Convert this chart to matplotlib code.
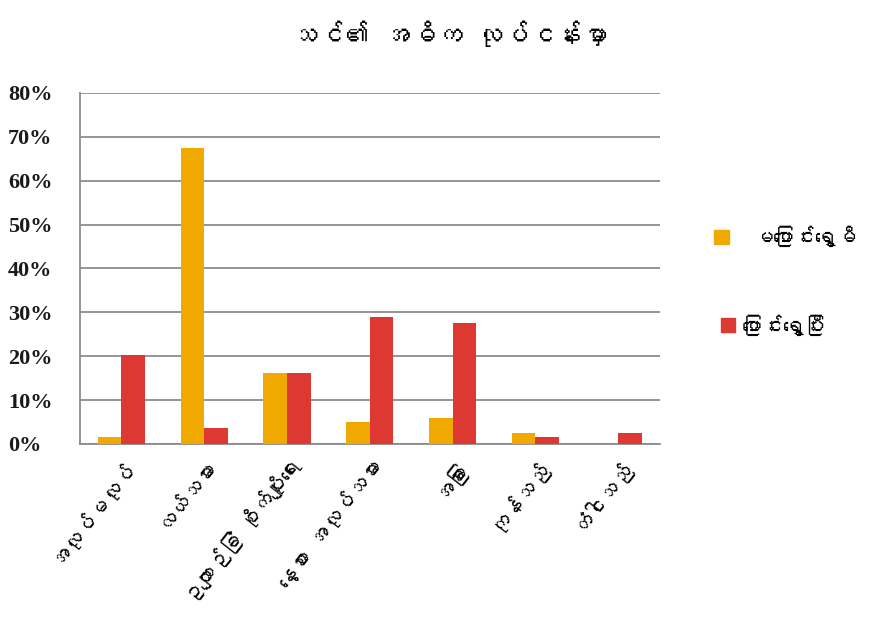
import numpy as np
import matplotlib
matplotlib.use("Agg")
import matplotlib.pyplot as plt
from matplotlib import font_manager
from matplotlib.ft2font import FT2Font

# data (percent)
categories = ["အလုပ်မလုပ်", "လယ်သမား", "ဥယျာဉ်ခြံ စိုက်ပျိုးရေး", "နေ့စား အလုပ်သမား",
              "အခြား", "ကုန်သည်", "တံငါသည်"]
before_move = [1.5, 67.4, 16.1, 5.1, 6.0, 2.4, 0.0]
after_move = [20.2, 3.7, 16.1, 28.9, 27.5, 1.5, 2.4]
series_names = ["မပြောင်းရွှေ့မီ", "ပြောင်းရွှေ့ပြီး"]
title = "သင်၏ အဓိက လုပ်ငန်းမှာ"
yticks = [0, 10, 20, 30, 40, 50, 60, 70, 80]


def myanmar_font():
    # look for any installed font that has Myanmar glyphs
    for f in font_manager.fontManager.ttflist:
        try:
            if 0x1000 in FT2Font(f.fname).get_charmap():
                return f.name
        except Exception:
            pass
    return None


mm = myanmar_font()
mm_family = [mm, "DejaVu Sans"] if mm else ["DejaVu Sans"]

fig = plt.figure(figsize=(8.81, 6.17), dpi=100)
ax = fig.add_axes([0.0908, 0.2804, 0.658, 0.569])

x = np.arange(len(categories))
w = 0.285
ax.bar(x - w / 2, before_move, w, color="#EFA900", label=series_names[0], zorder=3)
ax.bar(x + w / 2, after_move, w, color="#DE3832", label=series_names[1], zorder=3)

ax.set_xlim(-0.5, len(categories) - 0.5)
ax.set_ylim(0, 80)
ax.set_yticks(yticks)
ax.set_yticklabels([f"{v}%" for v in yticks], family="Liberation Serif",
                   fontweight="bold", fontsize=16, color="#1a1a1a")
ax.yaxis.grid(True, color="#8c8c8c", linewidth=1.3, zorder=0)
ax.tick_params(axis="y", length=0, pad=52)
ax.tick_params(axis="x", length=0, pad=8)
for lbl in ax.get_yticklabels():
    lbl.set_horizontalalignment("left")

ax.set_xticks(x)
ax.set_xticklabels(categories, rotation=52, ha="right", rotation_mode="anchor",
                   family=mm_family, fontsize=15)

for s in ["top", "right"]:
    ax.spines[s].set_visible(False)
for s in ["left", "bottom"]:
    ax.spines[s].set_color("#8c8c8c")
    ax.spines[s].set_linewidth(1.3)

fig.text(0.51, 0.945, title, ha="center", va="center", fontsize=19,
         fontweight="bold", family=mm_family)

# legend drawn as markers + text, matching the loose Excel layout
fig.patches.append(plt.Rectangle((0.811, 0.605), 0.016, 0.022, color="#EFA900",
                                 transform=fig.transFigure, figure=fig))
fig.text(0.855, 0.617, series_names[0], ha="left", va="center", fontsize=15,
         family=mm_family)
fig.patches.append(plt.Rectangle((0.818, 0.462), 0.016, 0.022, color="#DE3832",
                                 transform=fig.transFigure, figure=fig))
fig.text(0.842, 0.473, series_names[1], ha="left", va="center", fontsize=15,
         family=mm_family)

fig.savefig("out.png", dpi=100)
